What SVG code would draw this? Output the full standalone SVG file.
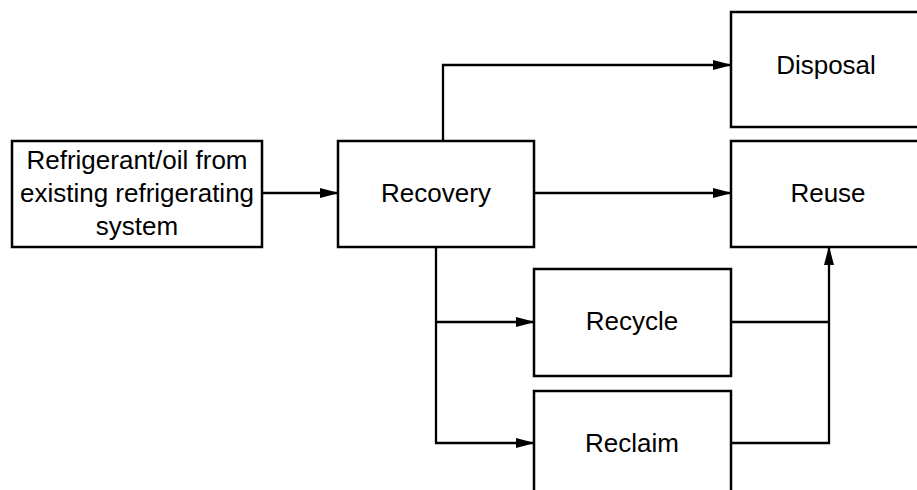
<svg xmlns="http://www.w3.org/2000/svg" width="917" height="490" viewBox="0 0 917 490">
<style>
.box{fill:#fff;stroke:#000;stroke-width:2.5}
.t{font-family:"Liberation Sans",Arial,sans-serif;font-size:26px;fill:#000;text-anchor:middle}
.c{fill:none;stroke:#000;stroke-width:2.3}
</style>
<defs>
<marker id="arr" markerWidth="19" markerHeight="11" refX="18" refY="5" orient="auto" markerUnits="userSpaceOnUse">
<path d="M0,0 L19,5 L0,10 Z" fill="#000"/>
</marker>
</defs>
<g id="source">
<rect class="box" x="12" y="141" width="250" height="106"/>
<text class="t" x="137" y="169">Refrigerant/oil from</text>
<text class="t" x="137" y="202">existing refrigerating</text>
<text class="t" x="137" y="235">system</text>
</g>
<g id="recovery">
<rect class="box" x="338" y="141" width="196" height="106"/>
<text class="t" x="436" y="202">Recovery</text>
</g>
<g id="disposal">
<rect class="box" x="731" y="12" width="192" height="115"/>
<text class="t" x="826" y="74">Disposal</text>
</g>
<g id="reuse">
<rect class="box" x="731" y="141" width="192" height="106"/>
<text class="t" x="828" y="202">Reuse</text>
</g>
<g id="recycle">
<rect class="box" x="534" y="269" width="197" height="107"/>
<text class="t" x="632" y="330">Recycle</text>
</g>
<g id="reclaim">
<rect class="box" x="534" y="391" width="197" height="120"/>
<text class="t" x="632" y="452">Reclaim</text>
</g>
<g id="connectors">
<path class="c" d="M262,193 H338" marker-end="url(#arr)"/>
<path class="c" d="M443,141 V65 H731" marker-end="url(#arr)"/>
<path class="c" d="M534,193 H731" marker-end="url(#arr)"/>
<path class="c" d="M436,247 V443 H534" marker-end="url(#arr)"/>
<path class="c" d="M436,322 H534" marker-end="url(#arr)"/>
<path class="c" d="M731,322 H829"/>
<path class="c" d="M731,443 H829 V247" marker-end="url(#arr)"/>
</g>
</svg>
